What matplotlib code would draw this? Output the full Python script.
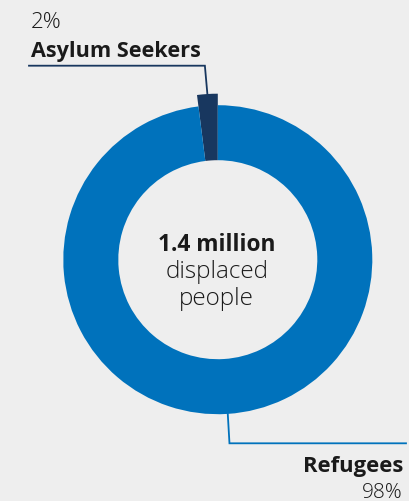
import matplotlib
matplotlib.use("Agg")
import matplotlib.pyplot as plt
import numpy as np

# data
labels = ["Asylum Seekers", "Refugees"]
shares = [2, 98]
pct_labels = ["2%", "98%"]
center_total = "1.4 million"
center_sub = ["displaced", "people"]

bg = "#eeeeee"
blue = "#0072bc"
navy = "#18375f"
ink = "#1a1a1a"

W, H = 410, 502
fig = plt.figure(figsize=(W / 100, H / 100), dpi=100, facecolor=bg)
ax = fig.add_axes([0, 0, 1, 1])
ax.set_facecolor(bg)

# work in pixel units, y measured from top
def py(y):
    return H - y

cx, cy = 217.8, py(260.7)
r_out, r_in = 154.5, 99.5
r_pop = 166

wedges, _ = ax.pie(shares, colors=[navy, blue], startangle=90, counterclock=True,
                   radius=r_out, center=(cx, cy),
                   wedgeprops=dict(width=r_out - r_in, linewidth=0))
# asylum seekers slice sticks out
wedges[0].set_radius(r_pop)
wedges[0].set_width(r_pop - r_in)

ax.set_xlim(0, W)
ax.set_ylim(0, H)
ax.set_aspect("equal")
ax.axis("off")

font = "Open Sans"

# leader for asylum seekers
a0 = np.radians((wedges[0].theta1 + wedges[0].theta2) / 2)
x0, y0 = cx + r_pop * np.cos(a0), cy + r_pop * np.sin(a0)
ax.plot([x0, x0 - 2.5, 29], [y0, py(66.7), py(66.7)], color=navy, lw=1.3,
        solid_joinstyle="miter")
ax.text(31, py(28), pct_labels[0], ha="left", va="baseline", fontsize=16,
        fontweight="light", color=ink, family=font)
ax.text(31, py(56.7), labels[0], ha="left", va="baseline", fontsize=15.6,
        fontweight="bold", color=ink, family=font)

# leader for refugees
a1 = np.radians(-86.3)
x1, y1 = cx + r_out * np.cos(a1), cy + r_out * np.sin(a1)
ax.plot([x1, x1 + 1.7, 406], [y1, py(444.3), py(444.3)], color=blue, lw=1.3,
        solid_joinstyle="miter")
ax.text(403, py(472), labels[1], ha="right", va="baseline", fontsize=15.8,
        fontweight="bold", color=ink, family=font)
ax.text(403, py(498.5), pct_labels[1], ha="right", va="baseline", fontsize=15,
        fontweight="light", color=ink, family=font)

# centre text
ax.text(cx - 1, py(251.5), center_total, ha="center", va="baseline", fontsize=16.4,
        fontweight="bold", color=ink, family=font)
ax.text(cx - 1, py(278), center_sub[0], ha="center", va="baseline", fontsize=17.5,
        fontweight="light", color=ink, family=font)
ax.text(cx - 1, py(305), center_sub[1], ha="center", va="baseline", fontsize=17.5,
        fontweight="light", color=ink, family=font)

plt.savefig("out.png", dpi=100, facecolor=bg)
